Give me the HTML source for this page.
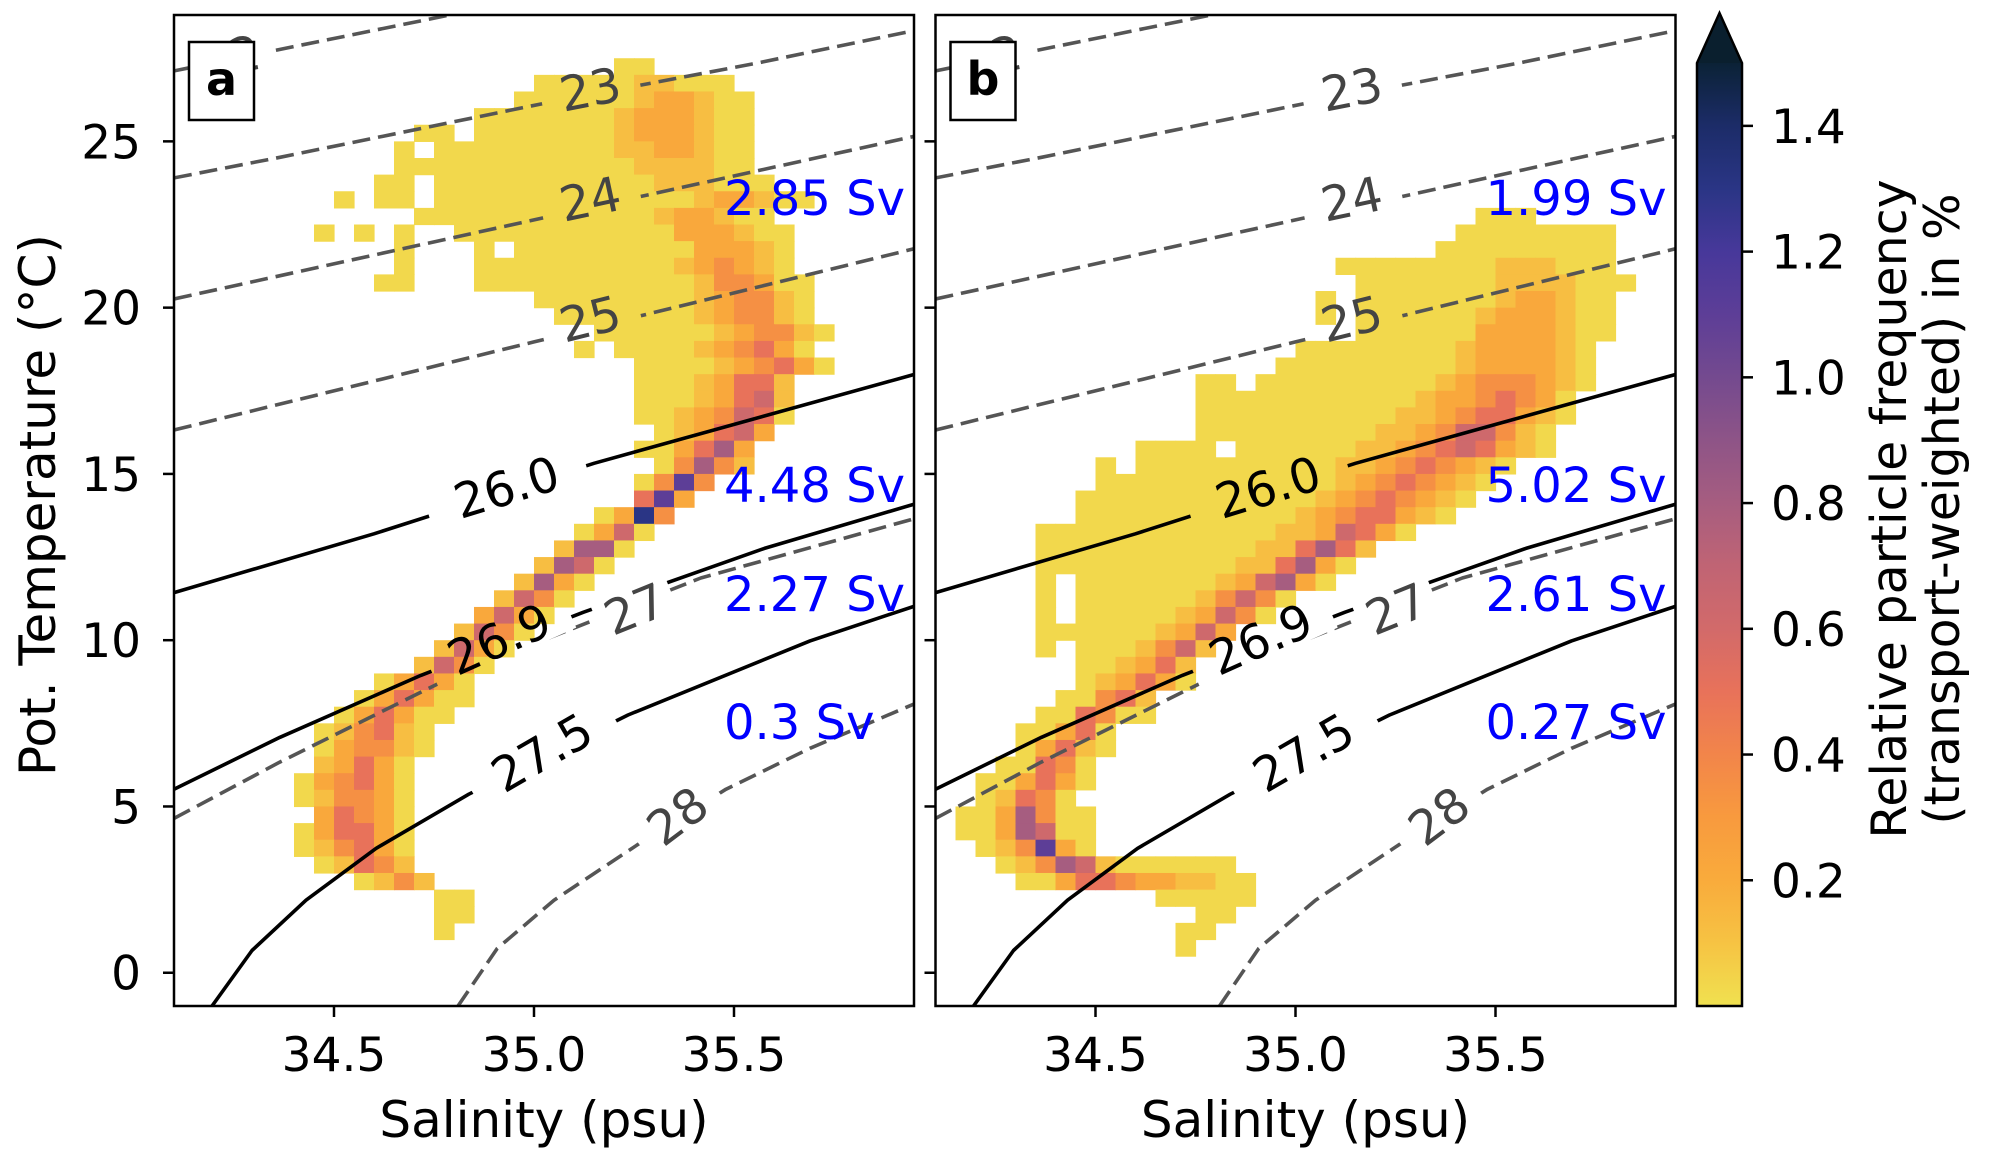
<!DOCTYPE html>
<html><head><meta charset="utf-8">
<style>
html,body{margin:0;padding:0;background:#fff;}
svg{display:block;font-family:"DejaVu Sans","Liberation Sans",sans-serif;}
</style></head>
<body>
<svg id="fig" xmlns="http://www.w3.org/2000/svg" width="1990" height="1161" viewBox="0 0 1990 1161">
<defs>
  <linearGradient id="cbgrad" x1="0" y1="1" x2="0" y2="0"></linearGradient>
</defs>
</svg>
<script>
// ---------- data ----------
const sMin = 34.1, sMax = 35.95, tMin = -1.0, tMax = 28.8;
const xTicks = [34.5, 35.0, 35.5];
const xTickLabels = ["34.5", "35.0", "35.5"];
const yTicks = [0, 5, 10, 15, 20, 25];
const yTickLabels = ["0", "5", "10", "15", "20", "25"];
const cbTicks = [0.2, 0.4, 0.6, 0.8, 1.0, 1.2, 1.4];
const cbTickLabels = ["0.2", "0.4", "0.6", "0.8", "1.0", "1.2", "1.4"];
const cbMax = 1.5;
const binS = 0.05, binT = 0.5;
// level code -> relative frequency (%)
const levelValues = [0, 0.03, 0.12, 0.22, 0.35, 0.5, 0.62, 0.8, 1.1, 1.3, 1.5];

// Panel a: row bottom temperature, start salinity-bin index, level codes
const aRowT = [27.0,26.5,26.0,25.5,25.0,24.5,24.0,23.5,23.0,22.5,22.0,21.5,21.0,20.5,20.0,19.5,19.0,18.5,18.0,17.5,17.0,16.5,16.0,15.5,15.0,14.5,14.0,13.5,13.0,12.5,12.0,11.5,11.0,10.5,10.0,9.5,9.0,8.5,8.0,7.5,7.0,6.5,6.0,5.5,5.0,4.5,4.0,3.5,3.0,2.5,2.0,1.5,1.0];
const aRowStart = [22,18,17,15,12,11,11,10,8,12,7,11,11,10,18,19,21,20,22,23,23,23,24,23,24,23,23,21,20,19,18,17,16,15,14,13,12,10,9,8,7,7,7,6,6,6,6,6,7,9,13,13,13];
const aRowLevels = ["11","1111122111","111111233211","11111112333211","11011111112333211","101111111112233211","111111111111222211","11011111111111222111","1011011111111111112332 11".replace(/ /g,""),"111111111111233211","101010011111111111333211","10001011111111133321","10001111111111234321","1100011111111111244311","11111111234421","1111111234421","11111123442 1".replace(/ /g,""),"101111234531","0111123453 1".replace(/ /g,""),"11123552","11123562","11234651","123563","113573","14742","1484","583","1394","1361","2771","2761","2731","2641","3631","2641","2631","2641","13531","135311","135311","124521","134421","23531","134531","124431","035431","135531","124531","12542","1242","11","11","1"];

// Panel b
const bRowT = [22.5,22.0,21.5,21.0,20.5,20.0,19.5,19.0,18.5,18.0,17.5,17.0,16.5,16.0,15.5,15.0,14.5,14.0,13.5,13.0,12.5,12.0,11.5,11.0,10.5,10.0,9.5,9.0,8.5,8.0,7.5,7.0,6.5,6.0,5.5,5.0,4.5,4.0,3.5,3.0,2.5,2.0,1.5,1.0,0.5];
const bRowStart = [27,26,25,20,21,19,19,21,18,17,13,13,13,13,10,8,8,7,7,5,5,5,5,5,5,5,5,7,7,6,5,4,4,3,2,2,1,1,2,3,4,11,13,12,12];
const bRowLevels = ["111","11111111","111111111","11111111222111","11111112222111","101111111233211","101111112333211","1111113333211","111111112333321","1111111112333321","11011111111123444321","1111111111123345431","1111111111223455321","111111111223466421","111101111112234565321","101111111111223454321","11111111111123454321","11111111111123454321","1111111111123455321","1111111111112236531","11111111111225752","1111111111225731","101111111236731","10111111246 41".replace(/ /g,""),"101111123641","1111112363","101112462","112352","123531","11452","115411","11351","13521","11541","113531","12541","1137411","1137611","124831","124762111111","113554332211","11111","11","11","1"];

// Sigma-theta isopycnals (salinity, temperature)
const sigNames = ["22","23","24","25","26.0","26.9","27","27.5","28"];
const sigDashed = [true,true,true,true,false,false,true,false,true];
const sigS = [
  [34.1,35.2],
  [34.1,34.365,35.016,35.56,35.95],
  [34.1,35.0,35.95],
  [34.1,35.0,35.95],
  [34.1,34.6,35.15,35.95],
  [34.1,34.365,34.717,35.123,35.576,35.95],
  [34.1,34.364,34.81,35.417,35.95],
  [34.195,34.295,34.43,34.605,34.837,35.235,35.69,35.95],
  [34.81,34.908,35.05,35.26,35.48,35.69,35.95]
];
const sigT = [
  [27.12,29.8],
  [23.9,24.52,26.12,27.36,28.33],
  [20.26,22.64,25.15],
  [16.32,18.97,21.77],
  [11.43,13.2,15.32,17.99],
  [5.52,7.08,8.94,10.84,12.76,14.09],
  [4.64,6.33,8.99,11.87,13.65],
  [-1.0,0.67,2.18,3.74,5.37,7.75,9.98,11.02],
  [-1.0,0.73,2.18,3.86,5.52,6.75,8.08]
];
// contour label positions (salinity, temperature) and rotation
const labS = [34.24,35.141,35.141,35.141,34.932,34.914,35.253,35.021,35.36];
const labT = [27.5,26.54,23.24,19.63,14.57,10.01,10.91,6.60,4.69];
const labRot = [-11,-11,-12,-14,-17,-24,-22,-30,-37];
const labGap = [80,100,100,100,165,150,80,160,95];

const svAValues = ["2.85 Sv","4.48 Sv","2.27 Sv","0.3 Sv"];
const svBValues = ["1.99 Sv","5.02 Sv","2.61 Sv","0.27 Sv"];
const svBaseline = [215,502,611,739];

// colormap (value %, color)
const cmapV = [0,0.1,0.2,0.3,0.4,0.5,0.6,0.7,0.8,0.9,1.0,1.1,1.2,1.3,1.4,1.5];
const cmapC = ["#f0e150","#f6c343","#f9ab3c","#f89a3e","#f2854a","#e8725a","#d26a6a","#c06474","#a65d80","#8e5487","#744a8f","#5d3e97","#47389a","#2a3585","#1c2c68","#0b2236"];

// ---------- helpers ----------
const NS = "http://www.w3.org/2000/svg";
const svg = document.getElementById("fig");
const PLOT_TOP = 15, PLOT_BOT = 1006, PLOT_W = 740;
function mk(tag, attrs, parent) {
  const e = document.createElementNS(NS, tag);
  for (const k in attrs) e.setAttribute(k, attrs[k]);
  (parent || svg).appendChild(e);
  return e;
}
function xs(s) { return (s - sMin) / (sMax - sMin) * PLOT_W; }
function ys(t) { return PLOT_TOP + (tMax - t) / (tMax - tMin) * (PLOT_BOT - PLOT_TOP); }
function hex(c){return [parseInt(c.slice(1,3),16),parseInt(c.slice(3,5),16),parseInt(c.slice(5,7),16)];}
function cmap(v) {
  if (v <= cmapV[0]) return cmapC[0];
  for (let i = 1; i < cmapV.length; i++) {
    if (v <= cmapV[i]) {
      const f = (v - cmapV[i-1]) / (cmapV[i] - cmapV[i-1]);
      const a = hex(cmapC[i-1]), b = hex(cmapC[i]);
      return "rgb(" + a.map((x, k) => Math.round(x + (b[k]-x)*f)).join(",") + ")";
    }
  }
  return cmapC[cmapC.length-1];
}
function codeToLevel(ch) { return ch === "A" ? 10 : parseInt(ch, 10); }

// gradient for colorbar
const grad = document.getElementById("cbgrad");
for (let i = 0; i < cmapV.length; i++) {
  mk("stop", {offset: (cmapV[i]/cbMax*100).toFixed(2) + "%", "stop-color": cmapC[i]}, grad);
}

function drawPanel(x0, key, rowT, rowStart, rowLevels, svVals, letter, showYLabels) {
  const g = mk("g", {transform: "translate(" + x0 + ",0)"});
  
  
  const defs = mk("defs", {}, g);
  const clip = mk("clipPath", {id: "clip-" + key}, defs);
  mk("rect", {x: 0, y: PLOT_TOP, width: PLOT_W, height: PLOT_BOT - PLOT_TOP}, clip);

  // heatmap
  const hm = mk("g", {"clip-path": "url(#clip-" + key + ")"}, g);
  
  
  for (let r = 0; r < rowT.length; r++) {
    const codes = rowLevels[r];
    for (let c = 0; c < codes.length; c++) {
      const lev = codeToLevel(codes[c]);
      if (!lev) continue;
      const s0 = sMin + (rowStart[r] + c) * binS;
      const x1 = xs(s0), x2 = xs(s0 + binS);
      const y1 = ys(rowT[r] + binT), y2 = ys(rowT[r]);
      const cell = mk("rect", {x: x1.toFixed(2), y: y1.toFixed(2), width: (x2-x1+0.6).toFixed(2), height: (y2-y1+0.6).toFixed(2), fill: cmap(levelValues[lev])}, hm);
      
      
    }
  }

  // mask for contour label gaps
  const mask = mk("mask", {id: "mask-" + key, maskUnits: "userSpaceOnUse", x: -50, y: -50, width: 900, height: 1200}, defs);
  mk("rect", {x: -50, y: -50, width: 900, height: 1200, fill: "#fff"}, mask);
  for (let i = 0; i < sigNames.length; i++) {
    const lx = xs(labS[i]), ly = ys(labT[i]);
    mk("rect", {x: -labGap[i]/2, y: -20, width: labGap[i], height: 40, fill: "#000",
      transform: "translate(" + lx.toFixed(1) + "," + ly.toFixed(1) + ") rotate(" + labRot[i] + ")"}, mask);
  }
  const cg = mk("g", {"clip-path": "url(#clip-" + key + ")"}, g);
  const cm = mk("g", {mask: "url(#mask-" + key + ")"}, cg);
  for (let i = 0; i < sigNames.length; i++) {
    const pts = sigS[i].map((s, k) => xs(s).toFixed(1) + "," + ys(sigT[i][k]).toFixed(1)).join(" ");
    const line = mk("polyline", {points: pts, fill: "none", stroke: sigDashed[i] ? "#555" : "#000",
      "stroke-width": 3.6, "stroke-dasharray": sigDashed[i] ? "18,8" : "none", "stroke-linejoin": "round"}, cm);
    
    
  }
  for (let i = 0; i < sigNames.length; i++) {
    const lx = xs(labS[i]), ly = ys(labT[i]);
    const t = mk("text", {x: 0, y: 0, "font-size": 48, "text-anchor": "middle", "dominant-baseline": "central",
      fill: sigDashed[i] ? "#444" : "#000",
      transform: "translate(" + lx.toFixed(1) + "," + ly.toFixed(1) + ") rotate(" + labRot[i] + ")"}, cg);
    t.textContent = sigNames[i];
    
    
  }

  // transport labels
  for (let i = 0; i < svVals.length; i++) {
    const t = mk("text", {x: 550, y: svBaseline[i], "font-size": 48, fill: "#0000ff"}, g);
    t.textContent = svVals[i];
    
    
  }

  // frame
  const fr = mk("rect", {x: 0, y: PLOT_TOP, width: PLOT_W, height: PLOT_BOT - PLOT_TOP, fill: "none", stroke: "#000", "stroke-width": 2.5}, g);
  
  

  // panel letter
  const box = mk("rect", {x: 15, y: 42, width: 65, height: 78, fill: "#fff", stroke: "#000", "stroke-width": 2.5}, g);
  
  
  const lt = mk("text", {x: 47.5, y: 95, "font-size": 46, "font-weight": "bold", "text-anchor": "middle", fill: "#000"}, g);
  lt.textContent = letter;
  
  

  // x ticks
  for (let i = 0; i < xTicks.length; i++) {
    const x = xs(xTicks[i]);
    mk("line", {x1: x, y1: PLOT_BOT, x2: x, y2: PLOT_BOT + 11, stroke: "#000", "stroke-width": 2.5}, g);
    const t = mk("text", {x: x, y: 1071, "font-size": 47, "text-anchor": "middle", fill: "#000"}, g);
    t.textContent = xTickLabels[i];
    
    
  }
  // y ticks
  for (let i = 0; i < yTicks.length; i++) {
    const y = ys(yTicks[i]);
    mk("line", {x1: -11, y1: y, x2: 0, y2: y, stroke: "#000", "stroke-width": 2.5}, g);
    if (showYLabels) {
      const t = mk("text", {x: -33, y: y + 17, "font-size": 47, "text-anchor": "end", fill: "#000"}, g);
      t.textContent = yTickLabels[i];
      
      
    }
  }
  const xl = mk("text", {x: PLOT_W/2, y: 1137, "font-size": 50, "text-anchor": "middle", fill: "#000"}, g);
  xl.textContent = "Salinity (psu)";
  
  
}

drawPanel(174, "a", aRowT, aRowStart, aRowLevels, svAValues, "a", true);
drawPanel(935.5, "b", bRowT, bRowStart, bRowLevels, svBValues, "b", false);

// y axis title
const yl = mk("text", {x: 0, y: 0, "font-size": 50, "text-anchor": "middle", fill: "#000", transform: "translate(55,505) rotate(-90)"});
yl.textContent = "Pot. Temperature (°C)";



// colorbar
const CB_X = 1697, CB_W = 45, CB_TOP = 63, CB_BOT = 1006;
const cbg = mk("g", {});


mk("rect", {x: CB_X, y: CB_TOP, width: CB_W, height: CB_BOT - CB_TOP, fill: "url(#cbgrad)"}, cbg);
const tri = mk("polygon", {points: CB_X + "," + CB_TOP + " " + (CB_X + CB_W) + "," + CB_TOP + " " + (CB_X + CB_W/2) + ",13", fill: "#0a1f2e"}, cbg);


mk("path", {d: "M" + CB_X + "," + CB_BOT + " V" + CB_TOP + " L" + (CB_X + CB_W/2) + ",13 L" + (CB_X + CB_W) + "," + CB_TOP + " V" + CB_BOT + " Z",
  fill: "none", stroke: "#000", "stroke-width": 2.5, "stroke-linejoin": "miter"}, cbg);
function cbY(v) { return CB_BOT - v / cbMax * (CB_BOT - CB_TOP); }
for (let i = 0; i < cbTicks.length; i++) {
  const y = cbY(cbTicks[i]);
  mk("line", {x1: CB_X + CB_W, y1: y, x2: CB_X + CB_W + 11, y2: y, stroke: "#000", "stroke-width": 2.5}, cbg);
  const t = mk("text", {x: 1771, y: y + 17, "font-size": 47, fill: "#000"}, cbg);
  t.textContent = cbTickLabels[i];
  
  
}
const c1 = mk("text", {x: 0, y: 0, "font-size": 49, "text-anchor": "middle", fill: "#000", transform: "translate(1906,509) rotate(-90)"});
c1.textContent = "Relative particle frequency";


const c2 = mk("text", {x: 0, y: 0, "font-size": 49, "text-anchor": "middle", fill: "#000", transform: "translate(1959,509) rotate(-90)"});
c2.textContent = "(transport-weighted) in %";


</script>
</body></html>
